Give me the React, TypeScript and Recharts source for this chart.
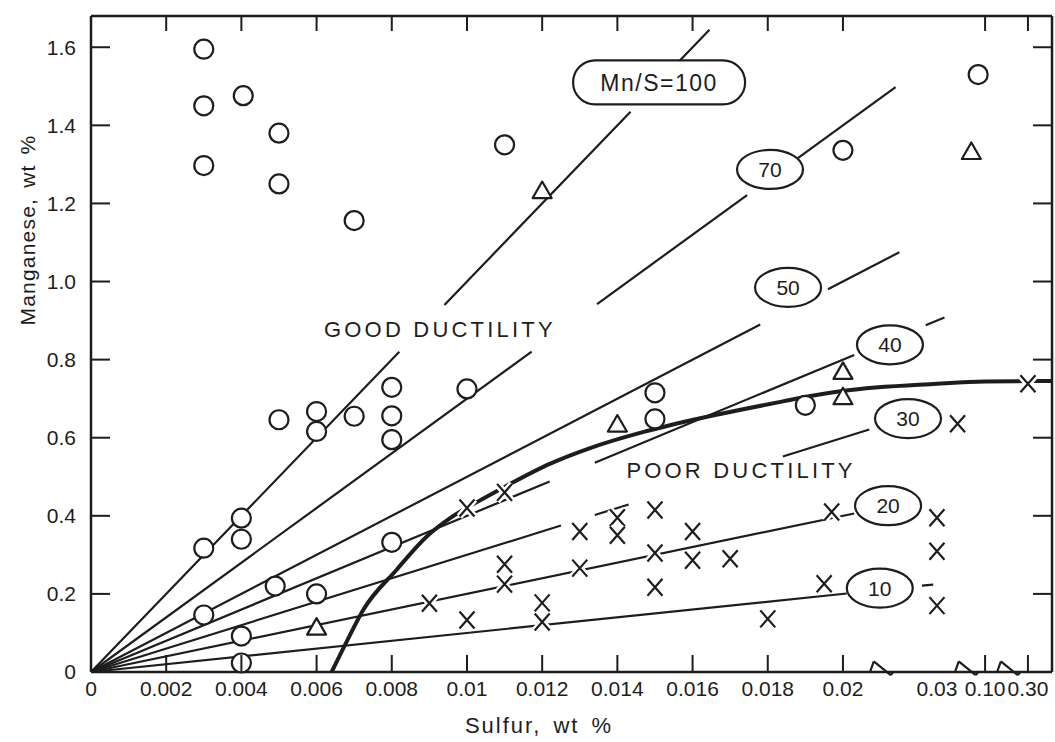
import React from "react";
import {
  ComposedChart,
  XAxis,
  YAxis,
  Line,
  Scatter,
  ReferenceLine,
} from "recharts";

const INK = "#1d1d1d";
const FONT = '"Liberation Sans", Arial, Helvetica, sans-serif';

// sulfur axis is linear up to 0.02, then broken: 0.03, 0.10, 0.30
const xTickValues = [0, 0.002, 0.004, 0.006, 0.008, 0.01, 0.012, 0.014, 0.016, 0.018, 0.02, 0.03, 0.1, 0.3];
const xTickLabels = ["0", "0.002", "0.004", "0.006", "0.008", "0.01", "0.012", "0.014", "0.016", "0.018", "0.02", "0.03", "0.10", "0.30"];
const xMarkValues = [0.002, 0.004, 0.006, 0.008, 0.01, 0.012, 0.014, 0.016, 0.018, 0.02, 0.1, 0.3];
const yTicks = [0, 0.2, 0.4, 0.6, 0.8, 1.0, 1.2, 1.4, 1.6];

const breakSulfur = [0, 0.02, 0.03, 0.1, 0.3, 0.34];
const breakPos = [0, 0.02, 0.0225, 0.02378, 0.02492, 0.02556];
const X_MAX = 0.02556;
const Y_MAX = 1.68;

function toPos(s: number) {
  for (let i = 1; i < breakSulfur.length; i++) {
    if (s <= breakSulfur[i]) {
      const t = (s - breakSulfur[i - 1]) / (breakSulfur[i] - breakSulfur[i - 1]);
      return breakPos[i - 1] + t * (breakPos[i] - breakPos[i - 1]);
    }
  }
  return breakPos[breakPos.length - 1];
}

// measured points, [sulfur, manganese]
const circles = [
  [0.003, 1.595], [0.003, 1.45], [0.003, 1.297], [0.00405, 1.476], [0.005, 1.38], [0.005, 1.25],
  [0.007, 1.156], [0.011, 1.35], [0.02, 1.336], [0.09, 1.53],
  [0.005, 0.646], [0.006, 0.667], [0.006, 0.616], [0.007, 0.655], [0.008, 0.729], [0.008, 0.656],
  [0.008, 0.595], [0.01, 0.725], [0.015, 0.715], [0.015, 0.648], [0.019, 0.683],
  [0.003, 0.317], [0.004, 0.394], [0.004, 0.34], [0.003, 0.146], [0.0049, 0.22], [0.006, 0.2],
  [0.004, 0.092], [0.004, 0.023], [0.008, 0.332],
];
const triangles = [
  [0.006, 0.115], [0.012, 1.233], [0.014, 0.635], [0.02, 0.77], [0.02, 0.705], [0.08, 1.333],
];
const crosses = [
  [0.01, 0.42], [0.009, 0.176], [0.01, 0.133], [0.011, 0.46], [0.011, 0.276], [0.011, 0.225],
  [0.012, 0.177], [0.012, 0.128], [0.013, 0.36], [0.013, 0.266], [0.014, 0.395], [0.014, 0.35],
  [0.015, 0.415], [0.015, 0.305], [0.015, 0.217], [0.016, 0.36], [0.016, 0.286], [0.017, 0.29],
  [0.018, 0.136], [0.0195, 0.226], [0.0197, 0.41], [0.03, 0.395], [0.03, 0.309], [0.03, 0.17],
  [0.06, 0.636], [0.3, 0.738],
];

// ductility boundary (heavy curve), sulfur vs manganese
const boundaryS = [0.0064, 0.0068, 0.00724, 0.00813, 0.00893, 0.00955, 0.0103, 0.011, 0.0122, 0.0132, 0.0147, 0.0154, 0.0166, 0.0184, 0.0191, 0.0201, 0.03, 0.1, 0.3, 0.34];
const boundaryMn = [0, 0.078, 0.159, 0.262, 0.347, 0.394, 0.437, 0.474, 0.533, 0.571, 0.615, 0.632, 0.658, 0.693, 0.706, 0.72, 0.738, 0.744, 0.745, 0.745];

// constant Mn/S lines; drawn stretches are in axis units (straight on the linear part)
const ratios = [100, 70, 50, 40, 30, 20, 10];
const ratioSegments = [
  [[0, 0.0082], [0.0094, 0.01435], [0.01565, 0.01645]],
  [[0, 0.01172], [0.01346, 0.01745], [0.0188, 0.0214]],
  [[0, 0.0178], [0.0196, 0.0215]],
  [[0, 0.0122], [0.0134, 0.0203], [0.0222, 0.0227]],
  [[0, 0.0125], [0.0134, 0.0143], [0.0184, 0.0207]],
  [[0, 0.0203]],
  [[0, 0.0201], [0.0221, 0.0224]],
];
const ratioLabels = ["Mn/S=100", "70", "50", "40", "30", "20", "10"];
const ratioLabelPos = [0.01511, 0.01806, 0.01854, 0.02125, 0.02173, 0.0212, 0.02098];
const ratioLabelMn = [1.51, 1.287, 0.985, 0.838, 0.649, 0.426, 0.215];

const regionTexts = ["GOOD DUCTILITY", "POOR DUCTILITY"];
const regionPos = [0.00928, 0.01729];
const regionMn = [0.879, 0.518];

// axis break marks on the sulfur axis (axis units)
const breakMarks = [0.02072, 0.02298, 0.0241];

type Pt = { p: number; mn: number | null };
const toPoints = (pts: number[][]) => pts.map(([s, mn]) => ({ p: toPos(s), mn }));

const boundaryData = boundaryS.map((s, i) => ({ p: toPos(s), mn: boundaryMn[i] }));

const ratioData = ratios.map((k, i) => {
  const out: Pt[] = [];
  const segs = ratioSegments[i];
  segs.forEach(([a, b], j) => {
    out.push({ p: a, mn: k * a });
    out.push({ p: b, mn: k * b });
    if (j < segs.length - 1) out.push({ p: (b + segs[j + 1][0]) / 2, mn: null });
  });
  return out;
});

const labelData = ratioLabels.map((text, i) => ({ p: ratioLabelPos[i], mn: ratioLabelMn[i], text }));
const regionData = regionTexts.map((text, i) => ({ p: regionPos[i], mn: regionMn[i], text }));

const xTickPos = xTickValues.map(toPos);
const formatX = (v: number) => {
  let best = 0;
  xTickPos.forEach((t, i) => {
    if (Math.abs(t - v) < Math.abs(xTickPos[best] - v)) best = i;
  });
  return xTickLabels[best];
};
const formatY = (v: number) => (v === 0 ? "0" : v.toFixed(1));

// chart box, shared by the chart and the frame tick overlay
const W = 1055;
const H = 742;
const M = { top: 16, right: 3, bottom: 0, left: 0 };
const Y_AXIS_W = 91;
const X_AXIS_H = 70;
const plotL = M.left + Y_AXIS_W;
const plotR = W - M.right;
const plotT = M.top;
const plotB = H - M.bottom - X_AXIS_H;
const px = (p: number) => plotL + (p / X_MAX) * (plotR - plotL);
const py = (v: number) => plotB - (v / Y_MAX) * (plotB - plotT);

function FrameTicks() {
  return (
    <svg width={W} height={H} style={{ position: "absolute", left: 0, top: 0, pointerEvents: "none" }}>
      <g stroke={INK} strokeWidth={2}>
        {xMarkValues.map((s) => (
          <line key={`b${s}`} x1={px(toPos(s))} x2={px(toPos(s))} y1={plotB} y2={plotB - 17} />
        ))}
        {xMarkValues.map((s) => (
          <line key={`t${s}`} x1={px(toPos(s))} x2={px(toPos(s))} y1={plotT} y2={plotT + 15} />
        ))}
        {yTicks.slice(1).map((v) => (
          <line key={`l${v}`} x1={plotL} x2={plotL + 19} y1={py(v)} y2={py(v)} />
        ))}
        {yTicks.slice(1).map((v) => (
          <line key={`r${v}`} x1={plotR} x2={plotR - 19} y1={py(v)} y2={py(v)} />
        ))}
      </g>
    </svg>
  );
}

function CircleMark(props: any) {
  const { cx, cy } = props;
  return <circle cx={cx} cy={cy} r={9.5} fill="#fff" stroke={INK} strokeWidth={2.2} />;
}

function TriangleMark(props: any) {
  const { cx, cy } = props;
  return (
    <polygon
      points={`${cx},${cy - 9} ${cx - 9.5},${cy + 7.5} ${cx + 9.5},${cy + 7.5}`}
      fill="#fff"
      stroke={INK}
      strokeWidth={2.2}
      strokeLinejoin="round"
    />
  );
}

function CrossMark(props: any) {
  const { cx, cy } = props;
  const w = 7.5;
  const h = 8.5;
  const d = `M${cx - w},${cy - h}L${cx + w},${cy + h}M${cx + w},${cy - h}L${cx - w},${cy + h}`;
  return (
    <g>
      <path d={d} stroke="#fff" strokeWidth={7} />
      <path d={d} stroke={INK} strokeWidth={2.2} />
    </g>
  );
}

function RatioLabel(props: any) {
  const { cx, cy, payload } = props;
  const wide = payload.text.length > 3;
  return (
    <g>
      {wide ? (
        <rect x={cx - 86} y={cy - 22} width={172} height={44} rx={22} fill="#fff" stroke={INK} strokeWidth={2.2} />
      ) : (
        <ellipse cx={cx} cy={cy} rx={33} ry={19.5} fill="#fff" stroke={INK} strokeWidth={2.2} />
      )}
      <text
        x={cx}
        y={cy}
        dy="0.36em"
        textAnchor="middle"
        fontFamily={FONT}
        fontSize={wide ? 23 : 21}
        letterSpacing={wide ? 1.5 : 0}
        fill={INK}
      >
        {payload.text}
      </text>
    </g>
  );
}

function RegionText(props: any) {
  const { cx, cy, payload } = props;
  return (
    <text x={cx} y={cy} dy="0.36em" textAnchor="middle" fontFamily={FONT} fontSize={22} letterSpacing={3.2} fill={INK}>
      {payload.text}
    </text>
  );
}

const tickStyle = { fontFamily: FONT, fontSize: 21, fill: INK };
const frame = { stroke: INK, strokeWidth: 2.5 };

export default function App() {
  return (
    <div style={{ position: "absolute", left: 0, top: 0, width: W, height: H, background: "#fff" }}>
      <ComposedChart width={W} height={H} margin={M}>
        <XAxis
          dataKey="p"
          type="number"
          domain={[0, X_MAX]}
          ticks={xTickPos}
          tickFormatter={formatX}
          interval={0}
          height={X_AXIS_H}
          tickSize={0}
          tickMargin={9}
          tick={tickStyle}
          axisLine={frame}
          tickLine={false}
        />
        <YAxis
          dataKey="mn"
          type="number"
          domain={[0, Y_MAX]}
          ticks={yTicks}
          tickFormatter={formatY}
          interval={0}
          width={Y_AXIS_W}
          tickSize={0}
          tickMargin={15}
          tick={tickStyle}
          axisLine={frame}
          tickLine={false}
        />
        {/* top and right edges of the frame */}
        <XAxis
          xAxisId="top"
          orientation="top"
          mirror
          type="number"
          domain={[0, X_MAX]}
          ticks={[]}
          height={16}
          tick={false}
          axisLine={frame}
          tickLine={false}
        />
        <YAxis
          yAxisId="right"
          orientation="right"
          mirror
          type="number"
          domain={[0, Y_MAX]}
          ticks={[]}
          width={19}
          tick={false}
          axisLine={frame}
          tickLine={false}
        />

        {ratioData.map((d, i) => (
          <Line
            key={ratios[i]}
            data={d}
            dataKey="mn"
            type="linear"
            stroke={INK}
            strokeWidth={2.2}
            dot={false}
            activeDot={false}
            connectNulls={false}
            isAnimationActive={false}
          />
        ))}
        <Line
          data={boundaryData}
          dataKey="mn"
          type="monotone"
          stroke={INK}
          strokeWidth={4}
          dot={false}
          activeDot={false}
          isAnimationActive={false}
        />

        {breakMarks.map((b) => (
          <ReferenceLine
            key={`w${b}`}
            segment={[{ x: b, y: 0 }, { x: b + 0.00062, y: 0 }]}
            stroke="#fff"
            strokeWidth={6}
            ifOverflow="visible"
          />
        ))}
        {breakMarks.map((b) => (
          <ReferenceLine
            key={`a${b}`}
            segment={[{ x: b, y: 0 }, { x: b + 0.0001, y: 0.027 }]}
            stroke={INK}
            strokeWidth={2.2}
            ifOverflow="visible"
          />
        ))}
        {breakMarks.map((b) => (
          <ReferenceLine
            key={`b${b}`}
            segment={[{ x: b + 0.0001, y: 0.027 }, { x: b + 0.00055, y: -0.008 }]}
            stroke={INK}
            strokeWidth={2.2}
            ifOverflow="visible"
          />
        ))}
        {breakMarks.map((b) => (
          <ReferenceLine
            key={`c${b}`}
            segment={[{ x: b + 0.00055, y: -0.008 }, { x: b + 0.00062, y: 0 }]}
            stroke={INK}
            strokeWidth={2.2}
            ifOverflow="visible"
          />
        ))}

        <Scatter data={toPoints(circles)} dataKey="mn" shape={<CircleMark />} isAnimationActive={false} />
        <Scatter data={toPoints(triangles)} dataKey="mn" shape={<TriangleMark />} isAnimationActive={false} />
        <Scatter data={toPoints(crosses)} dataKey="mn" shape={<CrossMark />} isAnimationActive={false} />
        <Scatter data={labelData} dataKey="mn" shape={<RatioLabel />} isAnimationActive={false} />
        <Scatter data={regionData} dataKey="mn" shape={<RegionText />} isAnimationActive={false} />
      </ComposedChart>

      <FrameTicks />

      <div
        style={{
          position: "absolute",
          left: 389,
          top: 713,
          width: 300,
          textAlign: "center",
          fontFamily: FONT,
          fontSize: 22,
          letterSpacing: 2,
          wordSpacing: 4,
          color: INK,
          whiteSpace: "nowrap",
        }}
      >
        Sulfur, wt %
      </div>
      <div
        style={{
          position: "absolute",
          left: 28 - 130,
          top: 232 - 14,
          width: 260,
          textAlign: "center",
          transform: "rotate(-90deg)",
          fontFamily: FONT,
          fontSize: 21,
          letterSpacing: 1.2,
          wordSpacing: 3,
          color: INK,
          whiteSpace: "nowrap",
        }}
      >
        Manganese, wt %
      </div>
    </div>
  );
}
